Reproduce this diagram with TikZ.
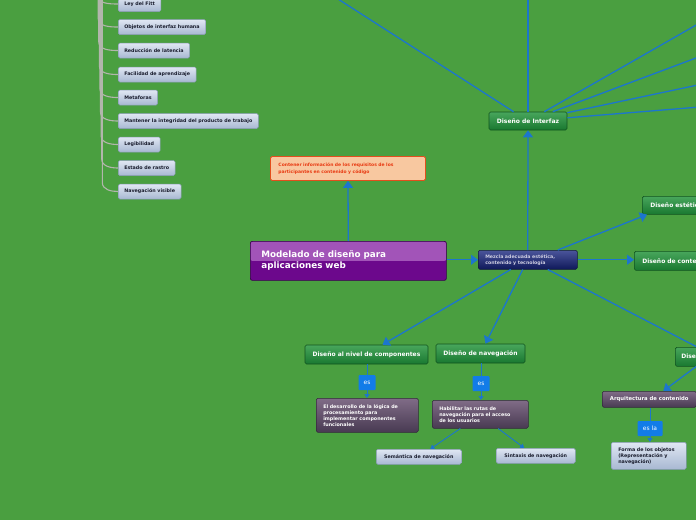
\documentclass[tikz,border=0pt]{standalone}
\usepackage{fontspec}
\setmainfont{DejaVu Sans}
\usetikzlibrary{arrows.meta,calc}
\definecolor{bgc}{RGB}{74,159,64}
\definecolor{lineblue}{RGB}{28,118,205}
\definecolor{greentop}{RGB}{72,166,92}
\definecolor{greenbot}{RGB}{25,120,48}
\definecolor{greenbd}{RGB}{18,85,32}
\definecolor{maintop}{RGB}{162,84,184}
\definecolor{mainbot}{RGB}{108,8,140}
\definecolor{mainbd}{RGB}{55,0,75}
\definecolor{navytop}{RGB}{75,85,155}
\definecolor{navybot}{RGB}{15,25,90}
\definecolor{navybd}{RGB}{20,25,60}
\definecolor{navytext}{RGB}{205,205,225}
\definecolor{plumtop}{RGB}{128,108,135}
\definecolor{plumbot}{RGB}{72,58,82}
\definecolor{plumbd}{RGB}{50,40,58}
\definecolor{lighttop}{RGB}{224,231,243}
\definecolor{lightbot}{RGB}{168,184,210}
\definecolor{lightbd}{RGB}{140,156,185}
\definecolor{lighttext}{RGB}{25,28,45}
\definecolor{esblue}{RGB}{18,124,232}
\definecolor{orfill}{RGB}{248,200,160}
\definecolor{orbd}{RGB}{228,78,28}
\definecolor{ortext}{RGB}{232,58,18}
\definecolor{graybranch}{RGB}{178,182,172}
\newcommand{\myfs}[2]{\fontsize{#1}{#2}\selectfont}
\tikzset{
  conn/.style={draw=lineblue, line width=1.3pt},
  arr/.style={conn, -{Triangle[width=10pt,length=7pt]}},
  thinconn/.style={draw=lineblue, line width=0.9pt},
  thinarr/.style={thinconn, -{Triangle[width=5pt,length=4pt]}},
  branch/.style={draw=graybranch, line width=1.1pt},
  greennode/.style={draw=greenbd, line width=0.6pt, rounded corners=1.5pt,
    top color=greentop, bottom color=greenbot, text=white,
    font=\myfs{6}{7}\bfseries, inner xsep=7pt, minimum height=19pt},
  mainnode/.style={draw=mainbd, line width=0.7pt, rounded corners=2pt, fill=mainbot,
    path picture={\fill[maintop] (path picture bounding box.north west) rectangle (path picture bounding box.east);},
    text=white, font=\myfs{8.8}{11}\bfseries, align=left, inner xsep=11pt},
  navynode/.style={draw=navybd, line width=0.5pt, rounded corners=1.5pt,
    top color=navytop, bottom color=navybot, text=navytext,
    font=\myfs{4.7}{6}\bfseries, align=left, inner xsep=7pt, inner ysep=1pt},
  plumnode/.style={draw=plumbd, line width=0.5pt, rounded corners=1.5pt,
    top color=plumtop, bottom color=plumbot, text=white,
    font=\myfs{4.8}{6}\bfseries, inner xsep=7pt, inner ysep=1pt},
  lightbox/.style={draw=lightbd, line width=0.5pt, rounded corners=1.5pt,
    top color=lighttop, bottom color=lightbot, text=lighttext,
    font=\myfs{4.8}{6}\bfseries, inner xsep=6pt, inner ysep=1pt, minimum height=15pt},
  orbox/.style={draw=orbd, line width=0.9pt, rounded corners=1.5pt, fill=orfill,
    text=ortext, font=\myfs{4.5}{7}\bfseries, align=left, inner xsep=8pt, inner ysep=1pt},
  eslabel/.style={fill=esblue, rounded corners=1pt, text=white,
    font=\myfs{6}{7}, minimum height=15pt, inner xsep=2pt, inner ysep=0pt}
}
\begin{document}
\begin{tikzpicture}[x=1pt,y=-1pt]
\useasboundingbox (0,0) rectangle (696,520);
\fill[bgc] (0,0) rectangle (696,520);

% left list
\node[lightbox, anchor=west] (l1) at (118,4) {Ley del Fitt};
\node[lightbox, anchor=west] (l2) at (118,27) {Objetos de interfaz humana};
\node[lightbox, anchor=west] (l3) at (118,50.5) {Reducción de latencia};
\node[lightbox, anchor=west] (l4) at (118,74.5) {Facilidad de aprendizaje};
\node[lightbox, anchor=west] (l5) at (118,97.5) {Metaforas};
\node[lightbox, anchor=west] (l6) at (118,121) {Mantener la integridad del producto de trabajo};
\node[lightbox, anchor=west] (l7) at (118,144.5) {Legibilidad};
\node[lightbox, anchor=west] (l8) at (118,168) {Estado de rastro};
\node[lightbox, anchor=west] (l9) at (118,191.5) {Navegación visible};

% central nodes
\node[orbox, anchor=north west, minimum width=155pt, minimum height=24pt, text width=139pt] (ora) at (270,156)
  {Contener información de los requisitos de los\\participantes en contenido y código};
\node[mainnode, anchor=north west, minimum width=196pt, minimum height=39pt, text width=174pt] (main) at (250,241)
  {Modelado de diseño para\\aplicaciones web};
\node[navynode, anchor=north west, minimum width=99pt, minimum height=19pt, text width=85pt] (mez) at (478,250)
  {Mezcla adecuada estética,\\contenido y tecnología};
\node[greennode, minimum width=78pt, minimum height=18pt] (int) at (528,121) {Diseño de Interfaz};
\node[greennode, anchor=north west, minimum width=100pt, minimum height=18pt, text width=84pt, align=left, inner xsep=8pt] (est) at (642,196) {Diseño estético};
\node[greennode, anchor=north west, minimum width=120pt, text width=104pt, align=left, inner xsep=8pt] (con) at (634,251) {Diseño de contenido};
\node[greennode, anchor=north west, minimum width=130pt, text width=118pt, align=left, inner xsep=6pt] (dar) at (675,347) {Diseño arquitectónico};
\node[greennode, minimum width=123pt] (comp) at (366.5,354.5) {Diseño al nivel de componentes};
\node[greennode, minimum width=89pt] (nav) at (480.5,353.5) {Diseño de navegación};

\node[eslabel, minimum width=17pt] (es1) at (367,382.5) {es};
\node[eslabel, minimum width=17pt] (es2) at (481,383.5) {es};
\node[plumnode, anchor=north west, minimum width=102pt, minimum height=34pt, text width=88pt, align=left] (cbox) at (316,398)
  {El desarrollo de la lógica de\\procesamiento para\\implementar componentes\\funcionales};
\node[plumnode, anchor=north west, minimum width=96pt, minimum height=28pt, text width=82pt, align=left] (hab) at (432,400)
  {Habilitar las rutas de\\navegación para el acceso\\de los usuarios};
\node[lightbox, anchor=north west, minimum width=85pt] (sem) at (376,449) {Semántica de navegación};
\node[lightbox, anchor=north west, minimum width=79pt] (sin) at (496,448) {Sintaxis de navegación};
\node[plumnode, anchor=north west, minimum width=94pt, minimum height=16pt, font=\myfs{5.3}{6}\bfseries] (arq) at (602,391) {Arquitectura de contenido};
\node[eslabel, minimum width=25pt] (esla) at (650,428.5) {es la};
\node[lightbox, anchor=north west, minimum width=75pt, minimum height=27pt, text width=61pt, align=left, inner xsep=7pt] (forma) at (611,442)
  {Forma de los objetos\\(Representación y\\navegación)};

% off-canvas targets
\coordinate (u1) at (324,-10);
\coordinate (u2) at (528,-10);
\coordinate (r1) at (712,16);
\coordinate (r2) at (712,52);
\coordinate (r3) at (712,82);
\coordinate (r4) at (712,106);

% left branches
\foreach \nm/\k in {l1/0,l2/1,l3/2,l4/3,l5/4,l6/5,l7/6,l8/7,l9/8} {
  \path ($(\nm.west)+(-20.5+0.6*\k,-9)$) coordinate (b\k);
  \draw[branch] (b\k |- 0,-30) -- (b\k) to[out=-90,in=180] (\nm.west);
}

% connectors
\draw[arr] (main.north) -- (ora.south);
\draw[arr] (main.east |- mez.west) -- (mez.west);
\draw[arr] (mez.north) -- (int.south);
\draw[arr] ($(mez.north)+(30,0)$) -- ($(est.south west)+(5,0)$);
\draw[arr] (mez.east) -- (con.west |- mez.east);
\draw[conn] ($(mez.south)+(20,0)$) -- ($(dar.north west)+(22,0)$);
\draw[arr] ($(mez.south)+(-17,0)$) -- ($(comp.north)+(16,0)$);
\draw[arr] ($(mez.south)+(-5,0)$) -- ($(nav.north)+(5,0)$);
\draw[arr] ($(dar.south west)+(21,0)$) -- ($(arq.north)+(14,0)$);

\draw[conn] (int) -- (u1);
\draw[conn] (int.north) -- (u2);
\draw[conn] (int) -- (r1);
\draw[conn] (int) -- (r2);
\draw[conn] (int) -- (r3);
\draw[conn] (int) -- (r4);

\draw[thinconn] (comp.south -| es1) -- (es1.north);
\draw[thinarr] (es1.south) -- (cbox.north -| es1.south);
\draw[thinconn] (nav.south -| es2) -- (es2.north);
\draw[thinarr] (es2.south) -- (hab.north -| es2.south);
\draw[thinarr] ($(hab.south)+(-20,0)$) -- ($(sem.north)+(11.5,0)$);
\draw[thinarr] ($(hab.south)+(18,0)$) -- ($(sin.north)+(-11.5,0)$);
\draw[thinconn] (arq.south -| esla) -- (esla.north);
\draw[thinarr] (esla.south) -- (forma.north -| esla.south);
\end{tikzpicture}
\end{document}
